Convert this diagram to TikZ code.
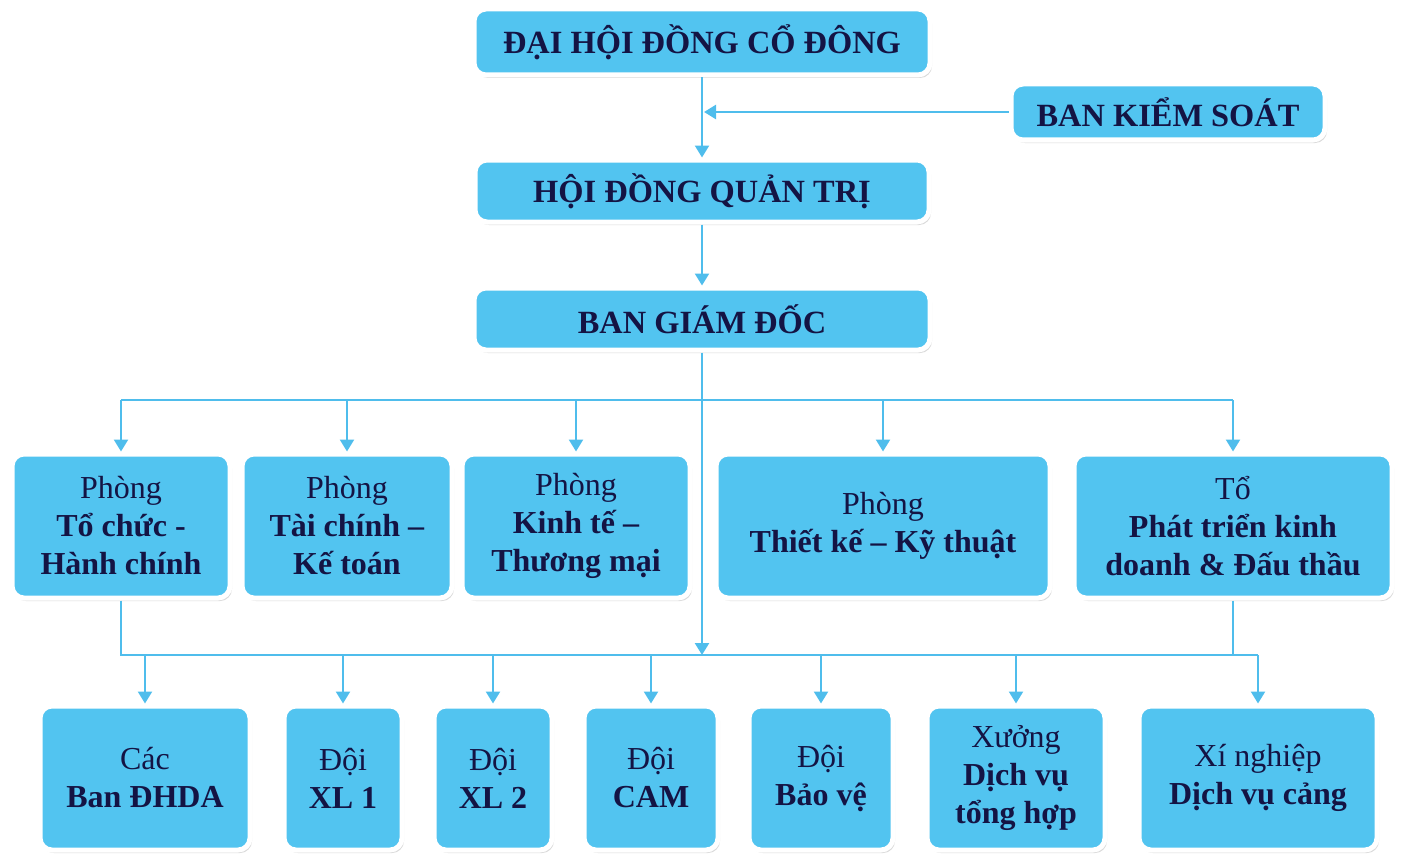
\documentclass[tikz,border=0pt]{standalone}
\usepackage{fontspec}
\setmainfont{Liberation Serif}
\usetikzlibrary{arrows.meta, shadows}
\definecolor{boxblue}{RGB}{82,196,240}
\definecolor{lineblue}{RGB}{79,189,236}
\definecolor{textnavy}{RGB}{20,20,68}

\tikzset{
  unit/.style={draw=white, line width=2.5pt, rounded corners=6pt, fill=boxblue,
    text=textnavy, align=center, inner sep=2pt, font=\fontsize{16}{19}\selectfont,
    drop shadow={shadow xshift=1pt, shadow yshift=-1.5pt, fill=black!30}},
  head/.style={unit, font=\fontsize{16.2}{19}\selectfont\bfseries},
  link/.style={draw=lineblue, line width=1.2pt},
  arr/.style={link, -{Triangle[length=6pt,width=7pt]}}
}

\begin{document}
\begin{tikzpicture}[x=0.5pt, y=-0.5pt]
    \useasboundingbox (0,0) rectangle (1402,856);

    % Top of the chart
    \node[head, minimum width=228pt, minimum height=33pt] (dh) at (702,42) {ĐẠI HỘI ĐỒNG CỔ ĐÔNG};
    \node[head, minimum width=157pt, minimum height=28pt] (bks) at (1168,112) {BAN KIỂM SOÁT};
    \node[head, minimum width=227pt, minimum height=31pt] (hd) at (702,191) {HỘI ĐỒNG QUẢN TRỊ};
    \node[head, minimum width=228pt, minimum height=31pt] (bgd) at (702,319) {BAN GIÁM ĐỐC};

    % Departments
    \node[unit, minimum width=109pt, minimum height=72pt] (p1) at (121,526) {Phòng\\\textbf{Tổ chức -}\\\textbf{Hành chính}};
    \node[unit, minimum width=105pt, minimum height=72pt] (p2) at (347,526) {Phòng\\\textbf{Tài chính –}\\\textbf{Kế toán}};
    \node[unit, minimum width=114pt, minimum height=72pt] (p3) at (576,526) {Phòng\\\textbf{Kinh tế –}\\\textbf{Thương mại}};
    \node[unit, minimum width=167pt, minimum height=72pt] (p4) at (883,526) {Phòng\\\textbf{Thiết kế – Kỹ thuật}};
    \node[unit, minimum width=159pt, minimum height=72pt] (p5) at (1233,526) {Tổ\\\textbf{Phát triển kinh}\\\textbf{doanh \& Đấu thầu}};

    % Units
    \node[unit, minimum width=105pt, minimum height=72pt] (b1) at (145,778) {Các\\\textbf{Ban ĐHDA}};
    \node[unit, minimum width=59pt, minimum height=72pt] (b2) at (343,778) {Đội\\\textbf{XL 1}};
    \node[unit, minimum width=59pt, minimum height=72pt] (b3) at (493,778) {Đội\\\textbf{XL 2}};
    \node[unit, minimum width=67pt, minimum height=72pt] (b4) at (651,778) {Đội\\\textbf{CAM}};
    \node[unit, minimum width=72pt, minimum height=72pt] (b5) at (821,778) {Đội\\\textbf{Bảo vệ}};
    \node[unit, minimum width=89pt, minimum height=72pt] (b6) at (1016,778) {Xưởng\\\textbf{Dịch vụ}\\\textbf{tổng hợp}};
    \node[unit, minimum width=119pt, minimum height=72pt] (b7) at (1258,778) {Xí nghiệp\\\textbf{Dịch vụ cảng}};

    % Bus points
    \coordinate (topbus) at (702,400);
    \coordinate (lowbus) at (702,655);

    % Draw edges
    \draw[arr] (dh) -- (hd);
    \draw[arr, shorten >=1pt] (bks) -- (bks.west -| dh.south);
    \draw[arr] (hd) -- (bgd);
    \draw[arr] (bgd) -- (lowbus);

    \draw[link] (p1.north |- topbus) -- (p5.north |- topbus);
    \draw[arr] (p1.north |- topbus) -- (p1);
    \draw[arr] (p2.north |- topbus) -- (p2);
    \draw[arr] (p3.north |- topbus) -- (p3);
    \draw[arr] (p4.north |- topbus) -- (p4);
    \draw[arr] (p5.north |- topbus) -- (p5);

    \draw[link] (p1) |- (b7.north |- lowbus);
    \draw[link] (p5) -- (p5.south |- lowbus);
    \draw[arr] (b1.north |- lowbus) -- (b1);
    \draw[arr] (b2.north |- lowbus) -- (b2);
    \draw[arr] (b3.north |- lowbus) -- (b3);
    \draw[arr] (b4.north |- lowbus) -- (b4);
    \draw[arr] (b5.north |- lowbus) -- (b5);
    \draw[arr] (b6.north |- lowbus) -- (b6);
    \draw[arr] (b7.north |- lowbus) -- (b7);
\end{tikzpicture}
\end{document}
